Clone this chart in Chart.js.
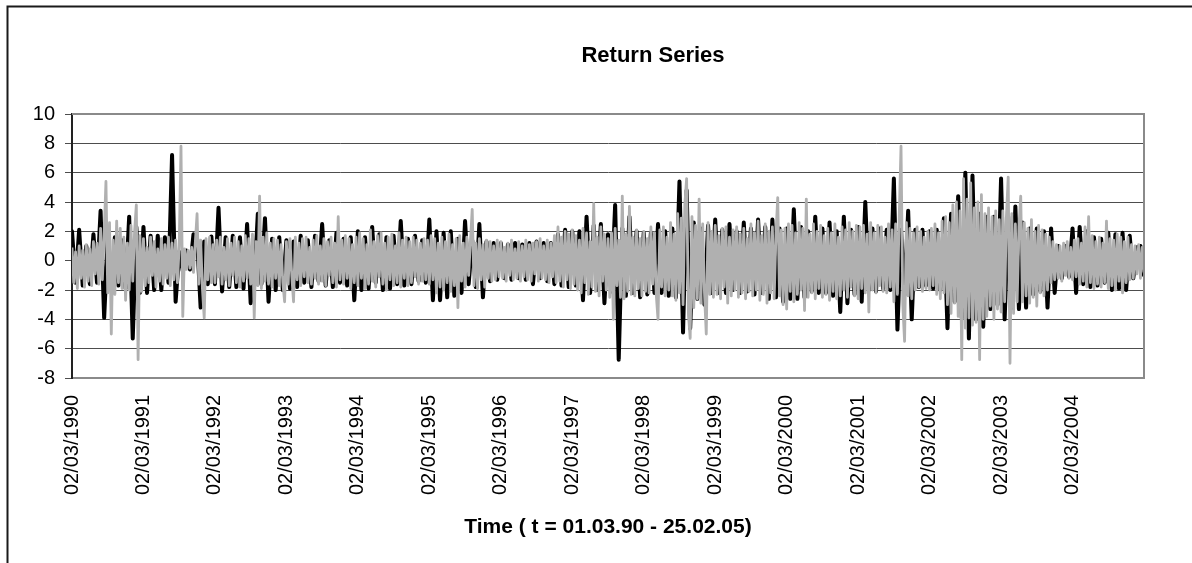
<!DOCTYPE html>
<html>
<head>
<meta charset="utf-8">
<title>Return Series</title>
<script src="https://cdn.jsdelivr.net/npm/chart.js@4.4.1/dist/chart.umd.min.js"></script>
<style>
  html, body { margin: 0; padding: 0; background: #fff; overflow: hidden; }
  #wrap { position: relative; width: 1192px; height: 563px; }
</style>
</head>
<body>
<div id="wrap"><canvas id="returnChart"></canvas></div>
<script>
    const chartTitle = 'Return Series';
    const axisTitle = 'Time ( t = 01.03.90 - 25.02.05)';

    // x is measured in years from 02/03/1990
    const tickLabels = ['02/03/1990', '02/03/1991', '02/03/1992', '02/03/1993', '02/03/1994',
        '02/03/1995', '02/03/1996', '02/03/1997', '02/03/1998', '02/03/1999',
        '02/03/2000', '02/03/2001', '02/03/2002', '02/03/2003', '02/03/2004'];
    const years = 15;

    // thick black series, 20 readings per year
    const blackPerYear = 20;
    const seriesBlack = [
        2.0, -1.5, 2.1, -1.7, 1.0, -1.6, 1.8, -1.5, 3.4, -3.9, 1.5, -1.8, 1.6, -1.7, 1.4, -1.9, 3.0, -5.3, 2.3, -2.2,
        2.3, -2.2, 1.7, -2.0, 1.7, -2.0, 1.6, -1.5, 7.2, -2.8, 0.6, -0.7, 0.7, -0.6, 1.8, 1.5, -3.2, 1.3, -1.6, 1.65,
        -1.6, 3.6, -2.1, 1.6, -1.8, 1.7, -1.8, 1.6, -1.9, 2.5, -2.9, -1.5, 3.2, -1.6, 2.9, -2.8, 1.5, -2.0, 1.6, -2.0,
        1.4, -1.9, 1.3, -1.8, 1.7, -1.5, 1.4, -1.8, 1.7, -1.4, 2.5, -1.7, 1.4, -1.8, 1.9, -1.5, 1.5, -1.7, 1.6, -2.7,
        2.0, -2.0, 1.6, -1.9, 2.3, -1.5, 1.8, -2.0, 1.6, -1.9, 1.7, -1.6, 2.7, -1.7, 1.5, -1.6, 1.7, -1.4, 1.4, -1.5,
        2.8, -2.7, 2.0, -2.7, 1.9, -2.5, 2.0, -2.4, 1.5, -2.2, 2.7, -1.6, 1.4, -1.8, 2.5, -2.5, 1.3, -1.4, 1.2, -1.3,
        1.2, -1.2, 1.1, -1.3, 1.2, -1.2, 1.1, -1.3, 1.2, -1.6, 1.3, -1.2, 1.2, -1.4, 1.2, -1.6, 1.8, -1.7, 2.1, -1.8,
        2.0, -1.7, 2.0, -2.7, 3.0, -2.2, 2.4, -2.0, 2.5, -2.9, 1.8, -2.1, 3.8, -6.75, 2.2, -2.4, 3.0, -2.2, 2.0, -2.5,
        1.9, -2.3, 1.9, -2.2, 2.5, -2.2, 2.0, -2.4, 2.2, -2.5, 5.4, -4.9, 4.8, -4.6, 2.6, -2.6, 2.2, -3.0, 2.4, -2.2,
        2.8, -2.2, 2.1, -2.2, 2.5, -2.0, 2.0, -2.2, 2.6, -2.1, 2.2, -2.3, 2.8, -2.2, 2.3, -2.6, 2.8, -2.5, 2.2, -2.8,
        2.2, -2.6, 3.5, -2.6, 2.3, -2.5, 2.0, -2.1, 3.0, -2.2, 2.2, -2.2, 2.6, -2.4, 2.0, -3.5, 3.0, -2.9, 2.1, -2.3,
        2.3, -2.8, 4.0, -2.0, 2.2, -2.1, 2.2, -1.9, 2.1, -2.0, 5.6, -4.7, 2.1, -2.3, 3.4, -4.0, 2.1, -1.8, 2.1, -1.7,
        2.0, -1.9, 2.1, -2.0, 2.9, -4.6, 3.2, -2.8, 4.4, -3.9, 6.0, -5.3, 5.8, -4.0, 3.2, -4.5, 3.0, -3.3, 3.0, -3.0,
        5.6, -4.0, 3.0, -3.2, 3.7, -3.3, 2.6, -3.2, 2.2, -2.3, 2.2, -2.1, 2.0, -3.2, 2.2, -2.2, 1.0, -1.2, 1.0, -1.1,
        2.2, -2.2, 2.3, -1.6, 2.0, -1.8, 1.6, -1.7, 1.5, -1.5, 1.9, -2.0, 1.8, -1.9, 1.9, -2.0, 1.7, -1.2, 0.9, 1.0, -1.0
    ];

    // thin grey series, 40 readings per year, drawn on top
    const greyPerYear = 40;
    const seriesGrey = [
        // 1990
        0.9, -1.5, 0.6, -1.9, 1.0, -1.2, 0.7, -1.8, 1.1, -1.4, 0.8, -1.7, 1.3, -0.9, 1.2, -1.6, 2.2, -1.3, 1.8, 5.4,
        -2.2, 2.6, -5.0, 1.4, -2.3, 2.7, -1.5, 2.2, -1.9, 1.6, -2.7, 1.2, -2.0, 2.4, -1.4, 1.9, 3.8, -6.75, 1.7, -2.1,
        // 1991
        1.5, -1.7, 0.9, -1.5, 1.6, -1.0, 1.3, -1.8, 0.8, -1.4, 1.5, -1.6, 1.1, -1.2, 1.6, -1.7, 1.2, -1.3, 1.4, -1.5,
        1.0, 7.8, -3.8, 0.8, -0.6, 0.7, -0.5, 0.9, -0.8, 1.2, 3.2, -1.6, 1.4, -1.9, -3.9, 1.5, -1.3, 1.6, -1.5, 1.1,
        // 1992
        -1.5, 1.4, -1.1, 1.6, -1.6, 0.9, -1.3, 1.5, -1.7, 1.2, -1.0, 1.6, -1.5, 1.3, -1.8, 1.0, -1.4, 1.7, -1.2, 1.5,
        -1.6, 1.8, -3.9, 1.3, -1.7, 4.4, -1.9, 1.6, -1.4, 1.9, -1.6, 1.2, -1.8, 1.5, -1.2, 1.4, -1.7, 1.1, -1.5, -2.8,
        // 1993
        1.3, -1.6, 1.5, -1.0, -2.8, 1.6, -1.3, 1.2, -1.7, 1.5, -1.1, 1.6, -1.5, 0.9, -1.6, 1.4, -1.2, 1.7, -1.6, 1.0,
        -1.4, 1.5, -1.7, 1.3, -1.0, 1.6, -1.5, 1.2, -1.8, 3.0, -1.3, 1.4, -1.6, 1.7, -1.2, 1.5, -1.9, 1.1, -1.5, 1.6,
        // 1994
        -1.7, 1.9, -1.2, 1.5, -1.9, 1.1, -1.6, 2.1, -1.4, 1.3, -1.8, 1.7, -1.1, 1.9, -1.6, 1.2, -2.0, 1.6, -1.3, 1.8,
        -1.7, 1.0, -1.5, 1.9, -1.8, 1.4, -1.2, 1.6, -1.7, 1.3, -1.5, 1.6, -1.1, 1.4, -1.6, 1.2, -1.4, 1.5, -1.3, 1.4,
        // 1995
        -1.6, 1.7, -1.3, 1.5, -2.2, 1.2, -1.8, 1.6, -2.0, 1.3, -1.5, 1.8, -2.1, 1.1, -1.7, 1.5, -3.2, 1.7, -1.4, 1.2,
        -1.8, 1.6, -1.0, 1.3, 3.5, -1.7, 1.2, -1.9, 1.5, -1.3, 1.1, -1.8, 1.4, -1.2, 1.3, -1.4, 1.0, -1.3, 1.4, -1.1,
        // 1996
        1.3, -1.2, 0.9, -1.4, 1.2, -1.0, 1.4, -1.3, 0.8, -1.2, 1.3, -1.4, 1.0, -1.1, 1.4, -1.3, 1.1, -1.4, 1.2, -0.9,
        1.3, -1.4, 1.5, -1.2, 1.0, -1.3, 1.4, -1.5, 1.2, -1.1, 1.7, -1.5, 2.3, -1.4, 1.6, -1.8, 2.0, -1.3, 1.8, -1.9,
        // 1997
        2.1, -1.6, 1.7, -2.0, 1.4, -2.2, 2.2, -1.5, 1.9, -2.3, 1.3, -1.8, 3.9, -2.1, 1.6, -2.4, 2.3, -1.4, 1.8, -2.0,
        1.5, -2.5, 1.9, -4.0, 2.2, -1.7, 1.4, -2.5, 4.4, -2.6, 1.8, -2.1, 3.7, -2.3, 1.6, -2.4, 2.1, -1.9, 1.5, -2.4,
        // 1998
        2.0, -2.1, 1.5, -2.2, 2.3, -1.6, 1.9, -2.3, -4.0, 2.1, -1.8, 2.3, -2.4, 1.6, -2.0, 2.6, -2.4, 1.8, -2.7, 3.2,
        -2.2, 2.9, -3.0, 3.8, 5.6, -3.6, -5.3, 3.0, -3.2, 2.4, -2.6, 4.2, -2.9, 2.5, -2.2, -5.0, 2.6, -2.3, 2.0, -2.5,
        // 1999
        2.4, -2.3, 1.7, -2.6, 2.2, -1.8, 2.3, -2.9, 1.6, -2.4, 2.1, -2.0, 2.3, -2.5, 1.8, -2.2, 2.2, -2.6, 1.5, -2.1,
        2.5, -2.4, 1.9, -2.0, 2.7, -2.7, 1.7, -2.3, 2.5, -2.9, 2.0, -2.2, 2.3, -2.6, 1.8, 4.3, -2.4, 2.1, -3.0, 2.2,
        // 2000
        -3.3, 2.5, -2.1, 2.4, -2.8, 1.9, -2.3, 2.6, -2.0, 2.2, -3.4, 4.2, -2.5, 1.8, -2.2, 2.5, -2.6, 2.0, -1.9, 2.4,
        -2.5, 1.7, -2.3, 2.2, -2.7, 1.9, -2.1, 2.5, -2.6, 1.6, -2.4, 2.3, -2.0, 2.1, -2.5, 2.6, -1.8, 2.0, -2.4, 2.4,
        // 2001
        -2.6, 2.3, -1.9, 2.4, -2.2, 1.8, -3.5, 2.6, -2.0, 1.9, -2.2, 2.4, -1.7, 2.3, -2.1, 1.6, -2.2, 2.5, -1.8, 2.1,
        -2.8, 2.5, -2.3, 3.0, 7.8, -3.0, -5.5, 2.6, -2.4, 2.2, -2.6, 1.9, -2.0, 2.3, -1.8, 2.0, -2.1, 1.6, -1.9, 2.0,
        // 2002
        -2.0, 2.2, -1.7, 2.5, -2.3, 1.9, -2.6, 2.7, -2.2, 3.0, -3.0, 2.6, -3.6, 3.8, -2.9, 4.0, -3.8, 3.4, -6.75, 5.6,
        -4.6, 4.2, -3.9, 5.3, -4.4, 3.6, -4.2, 4.0, -6.75, 4.5, -4.0, 3.2, -3.8, 3.6, -3.1, 3.0, -4.0, 3.4, -3.3, 2.8,
        // 2003
        -3.5, 3.4, -2.8, 3.0, 5.7, -7.0, 3.2, -3.6, 2.5, -2.8, 2.3, 4.4, -2.8, 2.6, -2.4, 2.2, -2.9, 2.8, -2.5, 2.0,
        -3.1, 2.4, -2.2, 2.1, -2.4, 1.8, -2.0, 1.6, -1.5, 1.3, -1.3, 1.1, -1.2, 1.0, -1.4, 1.2, -1.0, 1.3, -1.2, 0.9,
        // 2004
        -1.3, 1.4, -1.1, 1.5, -1.6, 1.2, -1.4, 2.3, -1.8, 3.0, -1.5, 1.7, -1.9, 1.3, -1.6, 1.6, -1.8, 1.2, -1.5, 2.7,
        -1.9, 1.5, -1.7, 1.4, -2.0, 1.8, -1.4, 1.6, -2.2, 1.3, -1.5, 1.6, -1.3, 1.1, -1.2, 1.0, -0.9, 1.1, -1.2, 0.9,
        -0.8
    ];

    const yMin = -8, yMax = 10, yStep = 2;

    const FONT = 'Arial, "Liberation Sans", sans-serif';

    // white page, outer frame, plot frame and the title
    const framePlugin = {
        id: 'frame',
        beforeDraw(c) {
            const ctx = c.ctx;
            ctx.save();
            ctx.fillStyle = '#fff';
            ctx.fillRect(0, 0, c.width, c.height);
            ctx.strokeStyle = '#1a1a1a';
            ctx.lineWidth = 2;
            ctx.beginPath();
            ctx.moveTo(7.5, c.height);
            ctx.lineTo(7.5, 6.5);
            ctx.lineTo(c.width, 6.5);
            ctx.stroke();
            ctx.restore();
        },
        afterDraw(c) {
            const ctx = c.ctx, a = c.chartArea;
            ctx.save();
            ctx.strokeStyle = '#8a8a8a';
            ctx.lineWidth = 2;
            ctx.beginPath();
            ctx.moveTo(a.left, a.top);
            ctx.lineTo(a.right, a.top);
            ctx.lineTo(a.right, a.bottom);
            ctx.stroke();
            ctx.fillStyle = '#000';
            ctx.font = 'bold 22px ' + FONT;
            ctx.textAlign = 'center';
            ctx.textBaseline = 'middle';
            ctx.fillText(chartTitle, 653, 56);
            ctx.restore();
        }
    };

    const chart = new Chart(document.getElementById('returnChart'), {
        type: 'line',
        data: {
            datasets: [{
                label: 'black',
                data: seriesBlack.map((y, i) => ({ x: i / blackPerYear, y })),
                borderColor: '#000',
                borderWidth: 4,
                borderJoinStyle: 'round',
                borderCapStyle: 'round',
                pointRadius: 0,
                tension: 0,
                order: 2
            }, {
                label: 'grey',
                data: seriesGrey.map((y, i) => ({ x: i / greyPerYear, y })),
                borderColor: '#b0b0b0',
                borderWidth: 2.8,
                borderJoinStyle: 'round',
                pointRadius: 0,
                tension: 0,
                order: 1
            }]
        },
        options: {
            responsive: true,
            maintainAspectRatio: false,
            animation: false,
            events: [],
            layout: { padding: { top: 114, right: 48, left: 0, bottom: 0 } },
            plugins: {
                legend: { display: false },
                tooltip: { enabled: false },
                title: { display: false }
            },
            scales: {
                x: {
                    type: 'linear',
                    min: 0,
                    max: years,
                    afterFit: (s) => { s.height = 185; },
                    grid: { display: false, drawTicks: false },
                    border: { display: true, color: '#8a8a8a', width: 2 },
                    ticks: {
                        stepSize: 1,
                        autoSkip: false,
                        minRotation: 90,
                        maxRotation: 90,
                        padding: 17,
                        color: '#000',
                        font: { family: FONT, size: 20 },
                        callback: (v) => tickLabels[v] || ''
                    },
                    title: {
                        display: true,
                        text: axisTitle,
                        color: '#000',
                        font: { family: FONT, size: 21, weight: 'bold' },
                        padding: { top: 0, bottom: 23 }
                    }
                },
                y: {
                    min: yMin,
                    max: yMax,
                    afterFit: (s) => { s.width = 72; },
                    grid: { color: '#4d4d4d', lineWidth: 1, tickLength: 7 },
                    border: { display: true, color: '#222', width: 2 },
                    ticks: {
                        stepSize: yStep,
                        padding: 10,
                        color: '#000',
                        font: { family: FONT, size: 20 }
                    }
                }
            }
        },
        plugins: [framePlugin]
    });
</script>
</body>
</html>
